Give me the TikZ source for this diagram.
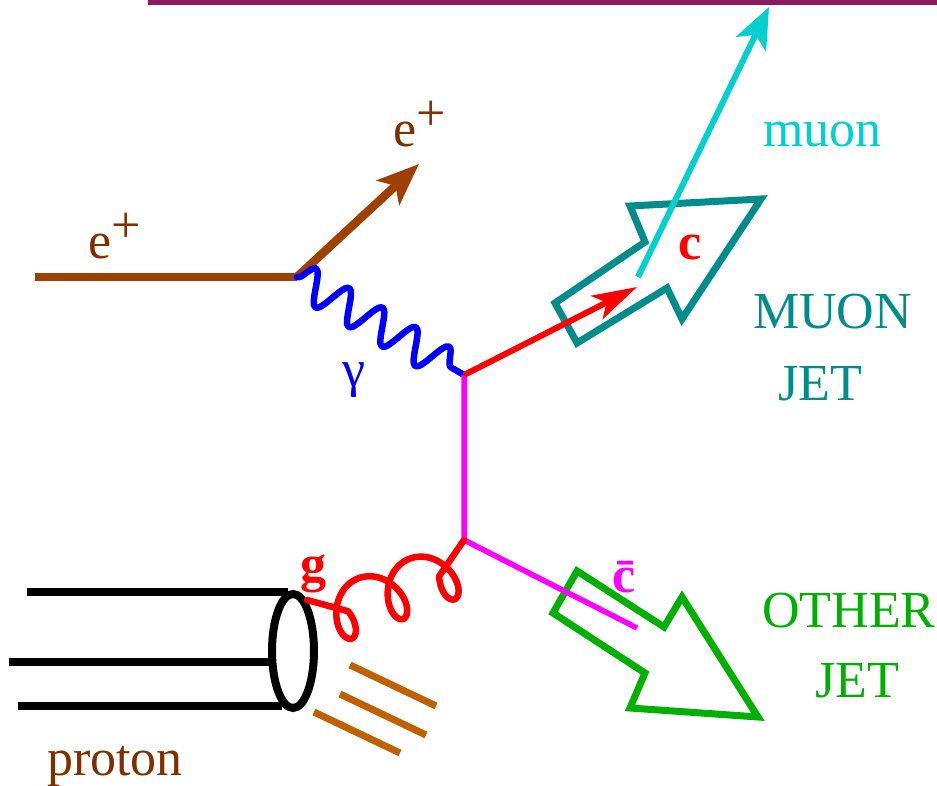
\documentclass[tikz,border=0pt]{standalone}
\usepackage{fontspec}
\setmainfont{Liberation Serif}
\usetikzlibrary{arrows.meta,decorations.pathmorphing,shapes.geometric}

\definecolor{eline}{RGB}{160,64,0}
\definecolor{etext}{RGB}{128,48,0}
\definecolor{remnant}{RGB}{192,96,0}
\definecolor{photonblue}{RGB}{0,0,255}
\definecolor{quarkred}{RGB}{255,0,0}
\definecolor{antiq}{RGB}{255,0,255}
\definecolor{muoncyan}{RGB}{0,208,208}
\definecolor{muonjet}{RGB}{0,140,140}
\definecolor{otherjet}{RGB}{0,176,0}
\definecolor{topbar}{RGB}{140,26,94}

\begin{document}
\begin{tikzpicture}[x=1pt,y=-1pt,line join=miter,
  lbl/.style={inner sep=0pt,anchor=base west,font=\fontsize{52}{62}\selectfont},
  lepton/.style={draw=eline,line width=8.5pt},
  photon/.style={draw=photonblue,line width=6.5pt,line cap=round,line join=round,
    decorate,decoration={snake,segment length=38.6pt,amplitude=17pt}},
  gluon/.style={draw=quarkred,line width=6.5pt,line cap=round,line join=round},
  quark/.style={draw=quarkred,line width=6pt},
  antiquark/.style={draw=antiq,line width=5.5pt},
  muonline/.style={draw=muoncyan,line width=6pt},
  beam/.style={draw=black,line width=8pt},
  frag/.style={draw=remnant,line width=7pt},
  jetbox/.style={line width=7pt},
  bigtip/.style={-{Stealth[length=42pt,width=33pt,inset=10pt]}},
  ctip/.style={-{Stealth[length=45pt,width=26pt,inset=11pt]}},
  mutip/.style={-{Stealth[length=41pt,width=33pt,inset=10pt]}}]
\useasboundingbox (0,0) rectangle (937,786);

% bar along the top edge
\coordinate (barL) at (148,2.5);
\coordinate (barR) at (937,2.5);
\draw[draw=topbar,line width=5pt] (barL) -- (barR);

% vertices and end points
\coordinate (eIn)  at (35,277);
\coordinate (eV)   at (297,277);
\coordinate (eOut) at (419,164);
\coordinate (v1)   at (464,375);
\coordinate (v2)   at (464,540);
\coordinate (cTip) at (637,287);
\coordinate (cbEnd) at (637,628);
\coordinate (muStart) at (638,277);
\coordinate (muTip) at (769,7);
\coordinate (gEnd) at (307,600);

% jets
\draw[jetbox,draw=muonjet] (555,303) -- (645,242) -- (630,206) -- (761,199)
  -- (682,319) -- (667,288) -- (577,343) -- cycle;
\draw[jetbox,draw=otherjet] (577,571) -- (664,627) -- (682,597) -- (758,717)
  -- (630,708) -- (645,673) -- (553,613) -- cycle;

% positron
\draw[lepton] (eIn) -- (eV);
\draw[lepton,bigtip] (eV) -- (eOut);

% photon
\draw[photon] (eV) -- (v1);

% charm pair
\draw[antiquark] (v1) -- (v2) -- (cbEnd);
\draw[quark,ctip] (v1) -- (cTip);

% muon
\draw[muonline,mutip] (muStart) -- (muTip);

% proton
\coordinate (p1a) at (27,592);  \coordinate (p1b) at (288,592);
\coordinate (p2a) at (9,662);   \coordinate (p2b) at (272,662);
\coordinate (p3a) at (18,706);  \coordinate (p3b) at (282,706);
\draw[beam] (p1a) -- (p1b);
\draw[beam] (p2a) -- (p2b);
\draw[beam] (p3a) -- (p3b);
\node[draw=black,line width=8pt,ellipse,minimum width=42pt,minimum height=114pt,
  inner sep=0pt] (blob) at (293,651) {};

% proton remnant
\coordinate (r1a) at (350,665); \coordinate (r1b) at (436,706);
\coordinate (r2a) at (340,694); \coordinate (r2b) at (426,735);
\coordinate (r3a) at (314,712); \coordinate (r3b) at (400,753);
\draw[frag] (r1a) -- (r1b);
\draw[frag] (r2a) -- (r2b);
\draw[frag] (r3a) -- (r3b);

% gluon: a trochoid (three curls) along the axis from v2 towards gEnd,
% axis direction (-0.934,0.357), curl side (0.357,0.934)
\draw[gluon] (v2) -- plot[domain=-0.25:2.25,samples=160]
  ({464 + (30 + 55*\x - 20*sin(360*\x))*(-0.934) + (25 + 27*cos(360*\x))*0.357},
   {540 + (30 + 55*\x - 20*sin(360*\x))*0.357 + (25 + 27*cos(360*\x))*0.934})
  -- (gEnd);

% labels
\node[lbl,text=etext] (lEin) at (88,259) {e\raisebox{16pt}{+}};
\node[lbl,text=etext] (lEout) at (393,147) {e\raisebox{16pt}{+}};
\node[lbl,text=photonblue] (lgam) at (342,386) {γ};
\node[lbl,text=quarkred,font=\fontsize{52}{62}\selectfont\bfseries] (lg) at (300,581) {g};
\node[lbl,text=quarkred,font=\fontsize{52}{62}\selectfont\bfseries] (lc) at (678,260) {c};
\node[lbl,text=antiq,font=\fontsize{52}{62}\selectfont\bfseries] (lcb) at (612,592) {\={c}};
\node[lbl,text=muoncyan] (lmu) at (763,147) {muon};
\node[lbl,text=muonjet] (lmj1) at (753,328) {MUON};
\node[lbl,text=muonjet] (lmj2) at (778,400) {JET};
\node[lbl,text=otherjet] (loj1) at (762,627) {OTHER};
\node[lbl,text=otherjet] (loj2) at (815,697) {JET};
\node[lbl,text=etext] (lp) at (47,775) {proton};
\end{tikzpicture}
\end{document}
